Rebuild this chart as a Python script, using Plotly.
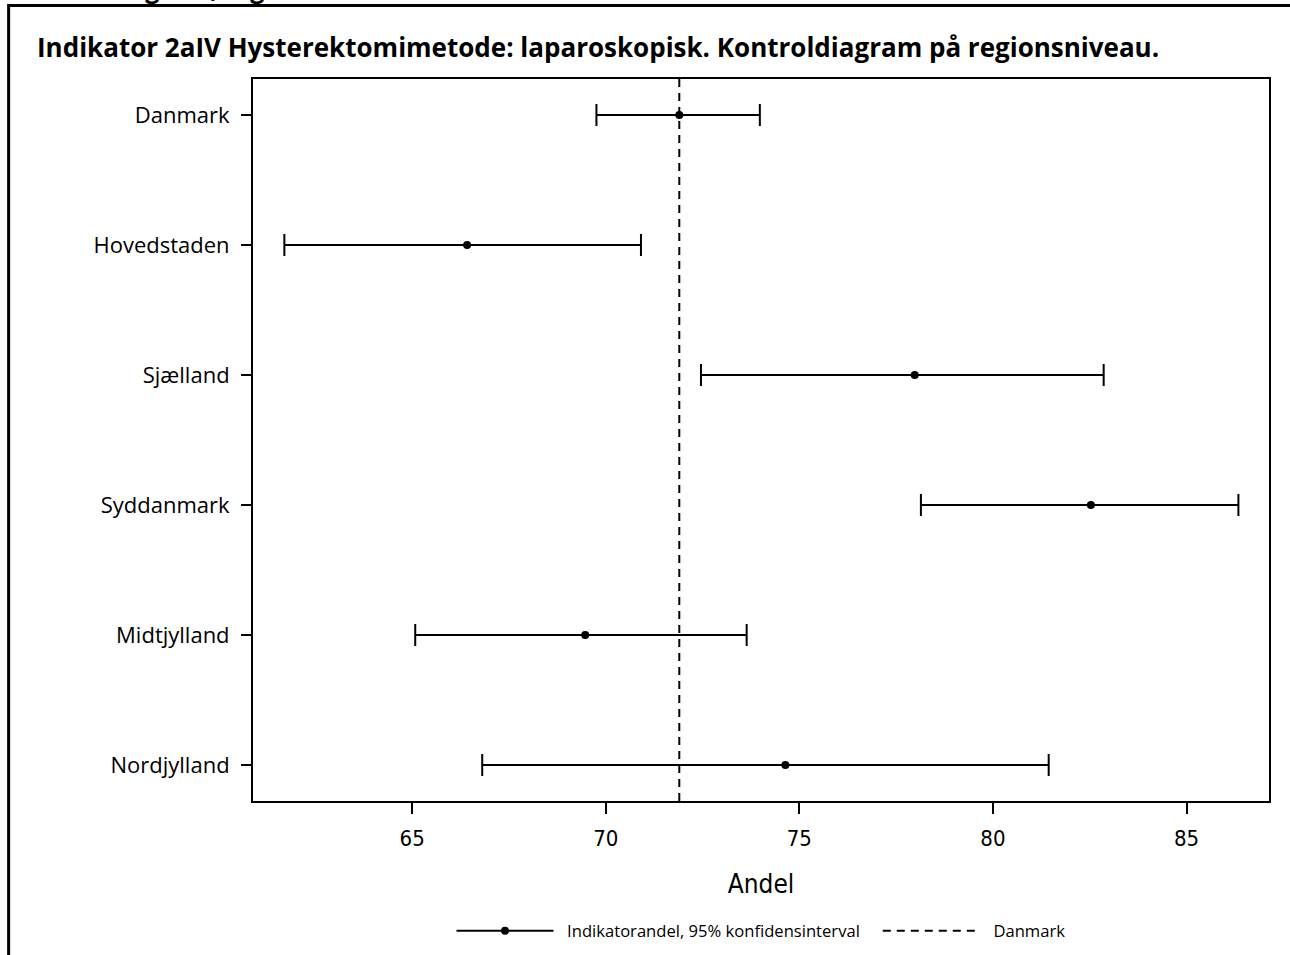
import plotly.graph_objects as go

# ---- data ----
regions = ["Danmark", "Hovedstaden", "Sjælland", "Syddanmark", "Midtjylland", "Nordjylland"]
andel = [71.90, 66.42, 77.98, 82.53, 69.47, 74.64]
lower = [69.76, 61.70, 72.46, 78.14, 65.08, 66.81]
upper = [73.98, 70.91, 82.86, 86.34, 73.64, 81.44]
x_ticks = [65, 70, 75, 80, 85]
x_range = [60.89, 87.13]
ref_value = andel[0]  # Danmark

title_text = "Indikator 2aIV Hysterektomimetode: laparoskopisk. Kontroldiagram på regionsniveau."
top_text = "Kontroldiagram, regioner"
legend_ci = "Indikatorandel, 95% konfidensinterval"
legend_ref = "Danmark"

W, H = 1290, 955
L, R, T, B = 252.5, 21, 79, 154
pw = W - L - R
ph = H - T - B

def px(xp):
    return (xp - L) / pw

def py(yp):
    return (H - B - yp) / ph

err_plus = [u - a for u, a in zip(upper, andel)]
err_minus = [a - l for a, l in zip(andel, lower)]

NB = "\u00a0\u00a0"

fig = go.Figure()
fig.add_trace(go.Scatter(
    x=andel, y=regions, mode="markers",
    marker=dict(color="black", size=8),
    error_x=dict(type="data", symmetric=False, array=err_plus, arrayminus=err_minus,
                 color="black", thickness=2, width=11),
    showlegend=False, hoverinfo="x+y",
))
# legend entry for the CI series
fig.add_trace(go.Scatter(
    x=[None], y=[None], mode="lines+markers", name=NB + legend_ci + "\u00a0\u00a0\u00a0",
    line=dict(color="black", width=2), marker=dict(color="black", size=8),
))
# reference line (Danmark)
fig.add_shape(type="line", xref="x", yref="paper", x0=ref_value, x1=ref_value, y0=0, y1=1,
              line=dict(color="black", width=2, dash="8px,6px"),
              showlegend=True, name=NB + legend_ref)

# outer frame (partially cut off like reference)
fig.add_shape(type="rect", xref="paper", yref="paper",
              x0=px(8), x1=px(1300), y0=py(970), y1=py(5.5),
              line=dict(color="black", width=3), fillcolor="rgba(0,0,0,0)", layer="below")

fig.add_annotation(xref="paper", yref="paper", x=px(34), y=py(47), xanchor="left", yanchor="middle",
                   text="<b>" + title_text + "</b>", showarrow=False,
                   font=dict(family="Open Sans", size=26, color="black"))
fig.add_annotation(xref="paper", yref="paper", x=px(10), y=py(7), xanchor="left", yanchor="bottom",
                   text="<b>" + top_text + "</b>", showarrow=False,
                   font=dict(family="Open Sans", size=25, color="black"))

fig.update_layout(
    width=W, height=H,
    margin=dict(l=L, r=R, t=T, b=B, autoexpand=False),
    paper_bgcolor="white", plot_bgcolor="white",
    showlegend=True,
    legend=dict(orientation="h", x=0.5, xanchor="center", y=py(931), yanchor="middle",
                font=dict(family="Open Sans", size=16.6, color="black"),
                itemwidth=97, bgcolor="rgba(0,0,0,0)"),
)
fig.update_xaxes(
    range=x_range, tickvals=x_ticks, ticks="outside", ticklen=11, tickwidth=1.5, tickcolor="black",
    showline=True, linecolor="black", linewidth=2, mirror=True, showgrid=False, zeroline=False,
    ticklabelstandoff=6,
    tickfont=dict(family="Liberation Sans Narrow, DejaVu Sans Condensed, sans-serif", size=22, color="black"),
    title=dict(text="Andel", font=dict(family="Liberation Sans Narrow, DejaVu Sans Condensed, sans-serif",
                                       size=26, color="black"), standoff=24),
)
fig.update_yaxes(
    type="category", categoryorder="array", categoryarray=regions,
    range=[len(regions) - 1 + 0.277, -0.277],
    ticks="outside", ticklen=10, tickwidth=1.5, tickcolor="black",
    showline=True, linecolor="black", linewidth=2, mirror=True, showgrid=False,
    ticklabelstandoff=7,
    tickfont=dict(family="Open Sans", size=22, color="black"), automargin=False,
)

fig.write_html("out.html")
